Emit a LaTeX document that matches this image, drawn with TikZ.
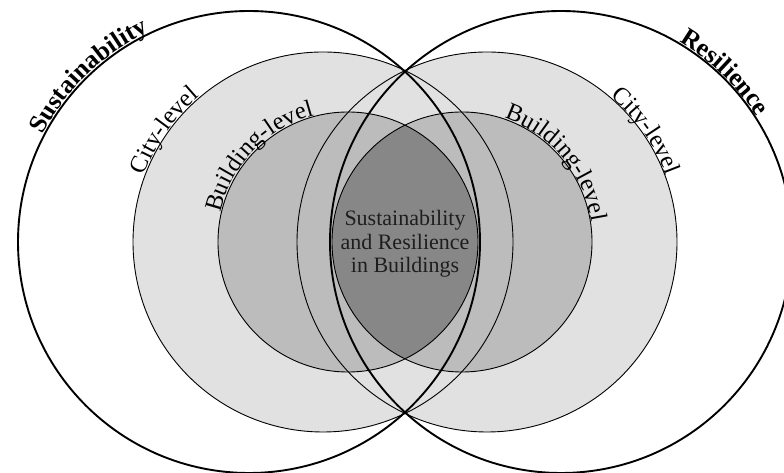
\documentclass[tikz,border=0pt]{standalone}
\usepackage{fontspec}
\setmainfont{Liberation Serif}
\usetikzlibrary{decorations.text,calc}
\definecolor{citygray}{HTML}{E1E1E1}
\definecolor{bldgray}{HTML}{BCBCBC}
\definecolor{coregray}{HTML}{878787}
\definecolor{txtgray}{HTML}{1E1E1E}
\newcommand\lblfont{\fontsize{24.5}{28}\selectfont}
\newcommand\bigfont{\fontsize{25.5}{29}\selectfont}
\tikzset{
  bigring/.style={line width=1.9pt, draw=black},
  thinring/.style={line width=0.9pt, draw=black},
  curvelabel/.style={decorate, decoration={text along path, text align=center, raise=#1}},
  curvelabel/.default=1pt,
}
\begin{document}
\begin{tikzpicture}[x=1pt,y=1pt]
\useasboundingbox (0,0) rectangle (784,473);
\clip (0,0) rectangle (784,473);
\coordinate (SL) at (249,231);
\coordinate (SR) at (561,231);
\coordinate (CL) at (323,231);
\coordinate (CR) at (487,231);
\coordinate (BL) at (348,231);
\coordinate (BR) at (462,231);
% fills
\fill[citygray] (CL) circle[radius=190];
\fill[citygray] (CR) circle[radius=190];
\fill[bldgray] (BL) circle[radius=130];
\fill[bldgray] (BR) circle[radius=130];
\begin{scope}
  \clip (BL) circle[radius=130];
  \fill[coregray] (BR) circle[radius=130];
\end{scope}
% outlines
\draw[thinring] (CL) circle[radius=190];
\draw[thinring] (CR) circle[radius=190];
\draw[thinring] (BL) circle[radius=130];
\draw[thinring] (BR) circle[radius=130];
\draw[bigring] (SL) circle[radius=231];
\draw[bigring] (SR) circle[radius=231];
% curved labels
\path[curvelabel=1.5pt, decoration={text={|\bigfont\bfseries|Sustainability}}]
  ($(SL)+(174:231)$) arc[start angle=174, end angle=94, radius=231];
\path[curvelabel=1.5pt, decoration={text={|\bigfont\bfseries|Resilience}}]
  ($(SR)+(86:231)$) arc[start angle=86, end angle=6, radius=231];
\path[curvelabel, decoration={text={|\lblfont|City-level}}]
  ($(CL)+(185:190)$) arc[start angle=185, end angle=105, radius=190];
\path[curvelabel, decoration={text={|\lblfont|City-level}}]
  ($(CR)+(75:190)$) arc[start angle=75, end angle=-5, radius=190];
\path[curvelabel, decoration={text={|\lblfont|Building-level}}]
  ($(BL)+(181:130)$) arc[start angle=181, end angle=91, radius=130];
\path[curvelabel, decoration={text={|\lblfont|Building-level}}]
  ($(BR)+(90:130)$) arc[start angle=90, end angle=-10, radius=130];
% centre text
\node[align=center, text=txtgray, font=\fontsize{22}{23.5}\selectfont] (core) at (405,229)
  {Sustainability\\and Resilience\\in Buildings};
\end{tikzpicture}
\end{document}
